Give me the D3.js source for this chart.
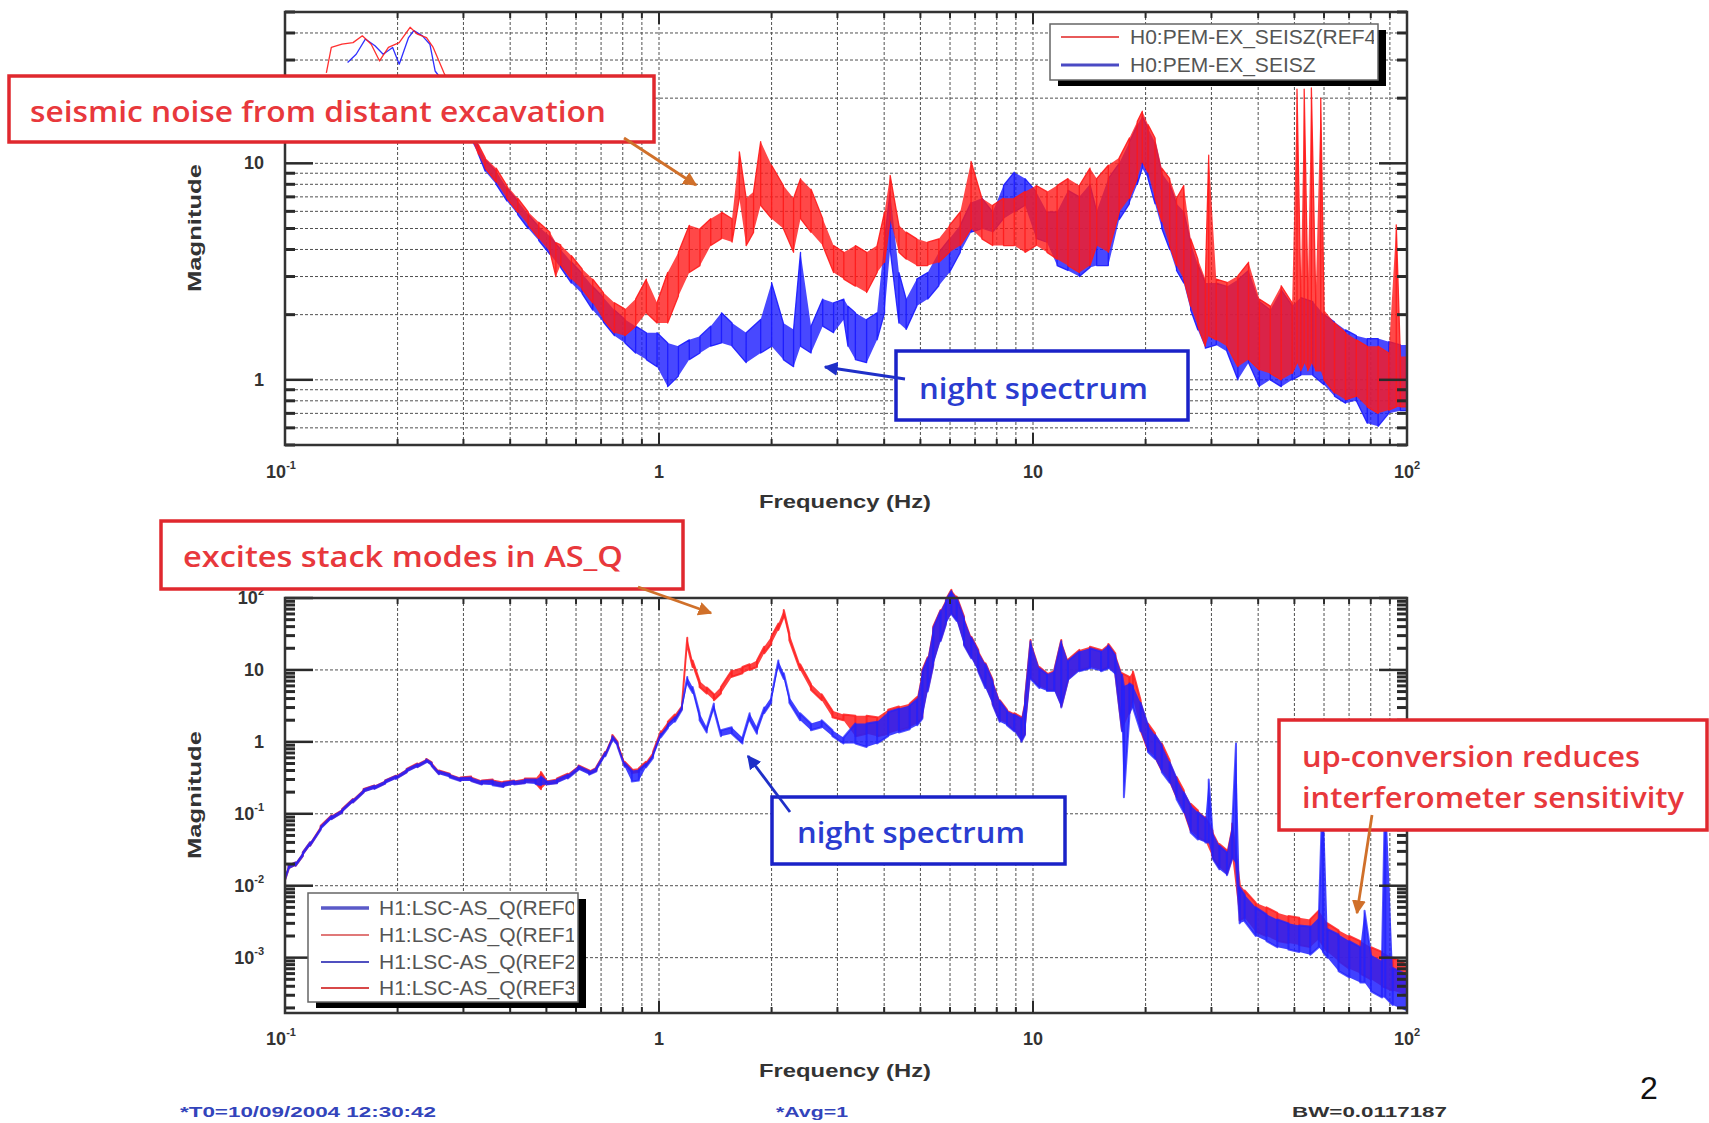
<!DOCTYPE html>
<html><head><meta charset="utf-8">
<script src="https://cdn.jsdelivr.net/npm/d3@7/dist/d3.min.js"></script>
<style>body{margin:0;background:#fff}svg{display:block}</style>
</head><body>
<svg id="chart" width="1709" height="1123"></svg>
<script>
// Seismometer spectra, [frequency Hz, lower envelope, upper envelope]
const seisDay = [[0.129,26.2,26.2],[0.133,34.3,34.3],[0.142,35.5,35.5],[0.152,36.1,36.1],[0.161,38.8,38.8],[0.170,35.5,35.5],[0.179,29.7,29.7],[0.189,34.3,34.3],[0.202,36.1,36.1],[0.216,42.5,42.5],[0.226,39.5,39.5],[0.239,38.1,38.1],[0.249,34.3,34.3],[0.258,29.7,29.7],[0.266,26.2,26.2],[0.29,19,21],[0.31,14.5,16],[0.329,11.0,12.2],[0.343,9.5,10.6],[0.367,8.2,9.5],[0.392,6.9,7.9],[0.419,5.96,6.9],[0.447,5.2,5.96],[0.477,4.5,5.35],[0.511,3.9,4.8],[0.53,3.0,4.3],[0.546,3.4,4.2],[0.583,2.92,3.75],[0.623,2.62,3.25],[0.665,2.27,2.92],[0.710,1.90,2.53],[0.760,1.65,2.27],[0.811,1.6,2.12],[0.866,1.77,2.36],[0.925,2.04,2.92],[0.988,1.83,2.27],[1.055,1.83,3.13],[1.127,2.44,3.88],[1.205,3.13,5.17],[1.287,3.37,4.99],[1.375,4.17,5.55],[1.469,4.49,5.95],[1.568,4.33,5.55],[1.64,6.9,11.3],[1.71,4.17,6.9],[1.79,4.8,7.4],[1.87,6.4,12.6],[2.00,5.55,9.8],[2.15,5.0,7.9],[2.29,3.88,6.9],[2.39,5.55,8.5],[2.55,4.8,7.6],[2.74,4.17,5.55],[2.93,3.13,4.17],[3.12,2.92,3.88],[3.35,2.71,4.17],[3.59,2.53,3.88],[3.83,3.13,4.17],[4.01,3.49,5.96],[4.15,5.5,8.8],[4.38,3.88,5.17],[4.58,3.61,4.81],[4.89,3.37,4.48],[5.23,3.37,4.32],[5.60,3.49,4.48],[5.98,3.88,5.17],[6.39,4.17,5.96],[6.83,4.99,10.2],[7.30,4.48,6.9],[7.80,4.17,6.4],[8.34,4.17,6.9],[8.91,4.17,6.9],[9.52,3.88,7.4],[10.2,4.17,7.9],[10.9,3.88,7.4],[11.6,3.61,7.9],[12.4,3.37,8.5],[13.3,3.13,7.9],[14.2,3.37,9.5],[14.8,4.17,8.5],[15.9,3.88,9.8],[17.0,5.96,10.6],[18.1,6.9,13.1],[19.0,8.5,15.6],[19.6,10.2,17.4],[20.3,9.1,15.1],[21.2,6.9,13.1],[22.1,5.4,9.5],[23.2,4.17,8.5],[24.2,3.37,6.9],[25.3,2.92,7.9],[26.4,2.19,4.48],[27.6,1.77,3.61],[28.9,1.43,2.92],[29.5,1.6,10.9],[30.9,1.53,2.92],[33.0,1.43,2.82],[35.3,1.15,3.02],[37.7,1.24,3.49],[40.3,1.11,2.36],[43.1,1.07,2.19],[46.1,1.0,2.72],[49.3,1.07,2.27],[50.8,1.2,22],[52.0,1.1,2.5],[53.1,1.2,22],[54.3,1.1,2.6],[55.5,1.2,22.3],[57.0,1.1,2.4],[58.8,1.1,20],[60.0,1.0,2.1],[64.0,0.87,1.83],[68.5,0.81,1.65],[73.2,0.84,1.53],[78.3,0.75,1.43],[83.7,0.70,1.43],[89.4,0.725,1.33],[93.6,0.75,5.2],[96,0.75,1.28],[100,0.75,1.28]];

const seisNight = [[0.147,29.2,29.2],[0.155,31.9,31.9],[0.164,37.5,37.5],[0.174,34.9,34.9],[0.183,31.9,31.9],[0.194,34.3,34.3],[0.202,28.7,28.7],[0.214,38.1,38.1],[0.221,41,41],[0.233,38.8,38.8],[0.244,35.5,35.5],[0.252,26.7,26.7],[0.28,20,21],[0.30,15,16.5],[0.329,11,12],[0.343,9.2,10.4],[0.367,8,9.2],[0.392,6.7,7.7],[0.419,5.8,6.7],[0.447,5.0,5.8],[0.477,4.4,5.1],[0.511,3.8,4.6],[0.546,3.3,4.0],[0.583,2.8,3.5],[0.623,2.5,3.1],[0.665,2.1,2.7],[0.710,1.85,2.4],[0.760,1.6,2.1],[0.811,1.48,1.9],[0.866,1.33,1.77],[0.925,1.24,1.65],[0.988,1.15,1.65],[1.055,0.93,1.48],[1.127,1.04,1.43],[1.205,1.24,1.53],[1.287,1.33,1.59],[1.375,1.43,1.77],[1.469,1.48,2.04],[1.568,1.43,1.83],[1.71,1.20,1.65],[1.87,1.33,1.90],[2.00,1.43,2.81],[2.15,1.24,1.83],[2.29,1.15,1.71],[2.39,1.43,3.88],[2.55,1.33,1.77],[2.74,1.77,2.36],[2.93,1.65,2.27],[3.12,1.90,2.36],[3.20,1.43,2.19],[3.35,1.24,2.04],[3.59,1.20,1.90],[3.83,1.53,2.04],[4.01,2.04,4.48],[4.15,4.0,7.4],[4.38,1.83,3.13],[4.58,1.71,2.36],[4.89,2.19,2.92],[5.23,2.36,3.13],[5.60,2.72,3.88],[5.98,3.13,4.48],[6.39,3.88,5.17],[6.83,4.81,6.6],[7.30,4.99,6.9],[7.80,4.81,5.96],[8.34,5.55,7.9],[8.91,5.96,9.1],[9.52,6.4,8.5],[10.2,4.5,7.4],[10.9,4.32,5.96],[11.6,3.37,5.96],[12.4,3.2,7.5],[13.3,3.0,7.0],[14.2,3.3,8],[14.8,3.37,6.0],[15.9,3.37,8.5],[17.0,5.5,10],[18.1,6.5,12.5],[19.0,8,15],[19.6,9.5,16.5],[20.3,8.5,14.5],[21.2,6.5,12.5],[22.1,5,9],[23.2,4,8],[24.2,3.2,6.5],[25.3,2.8,6],[26.4,2.1,4.3],[27.6,1.7,3.4],[28.9,1.4,2.8],[30.9,1.45,2.8],[33.0,1.35,2.7],[35.3,1.0,2.9],[37.7,1.2,3.2],[40.3,0.93,2.3],[43.1,1.0,2.1],[46.1,0.93,2.6],[49.3,1.0,2.2],[52,1.05,2.4],[56,1.05,2.3],[60,0.95,2.0],[64,0.84,1.85],[68.5,0.78,1.7],[73.2,0.8,1.6],[78.3,0.63,1.55],[83.7,0.61,1.55],[89.4,0.70,1.5],[96,0.72,1.45],[100,0.72,1.45]];

// AS_Q spectra, [frequency Hz, lower envelope, upper envelope]
const asqDay = [[0.100,0.012,0.014],[0.1022,0.017,0.019],[0.1068,0.019,0.021],[0.1116,0.026,0.029],[0.1167,0.036,0.040],[0.1246,0.062,0.068],[0.1331,0.085,0.095],[0.1422,0.105,0.117],[0.1519,0.145,0.160],[0.1623,0.200,0.222],[0.1734,0.225,0.248],[0.1853,0.265,0.29],[0.1980,0.31,0.34],[0.2115,0.38,0.42],[0.2259,0.45,0.50],[0.2386,0.53,0.58],[0.2467,0.47,0.52],[0.2580,0.36,0.40],[0.2757,0.33,0.36],[0.2945,0.29,0.32],[0.3146,0.29,0.33],[0.3361,0.26,0.29],[0.3591,0.26,0.30],[0.3837,0.24,0.28],[0.4099,0.26,0.29],[0.4379,0.27,0.31],[0.4678,0.27,0.31],[0.4834,0.22,0.38],[0.4998,0.26,0.29],[0.5339,0.27,0.31],[0.5704,0.32,0.36],[0.6094,0.42,0.47],[0.6510,0.36,0.40],[0.6804,0.40,0.45],[0.7183,0.65,0.73],[0.7502,1.10,1.25],[0.7750,0.90,1.0],[0.8095,0.47,0.53],[0.8457,0.37,0.42],[0.8834,0.38,0.43],[0.9229,0.47,0.53],[0.9642,0.65,0.73],[1.011,1.25,1.40],[1.056,1.70,1.90],[1.103,2.1,2.4],[1.152,2.9,3.3],[1.190,22,28],[1.230,11,13.5],[1.284,5.8,7],[1.342,4.7,5.7],[1.402,3.8,4.6],[1.464,4.7,5.8],[1.565,8.0,9.8],[1.672,9,11],[1.747,10,12],[1.828,11,13.5],[1.911,17,21],[1.996,23,29],[2.085,36,44],[2.156,55,68],[2.231,26,32],[2.384,10,12],[2.548,5.3,6.4],[2.722,3.8,4.6],[2.909,2.2,2.7],[3.113,2.0,2.4],[3.35,1.2,2.3],[3.59,1.3,2.3],[3.83,1.2,2.2],[4.10,1.3,2.8],[4.38,1.45,3.1],[4.68,1.6,3.4],[4.90,1.8,4.2],[5.06,2.2,10],[5.23,5.3,15],[5.41,12,40],[5.66,26,68],[5.85,45,95],[6.05,62,130],[6.25,50,105],[6.54,23,55],[6.84,15,29],[7.14,10,19],[7.46,5.9,12.4],[7.80,3.4,7.3],[8.15,2.0,3.8],[8.52,1.8,2.8],[8.91,1.45,2.5],[9.31,1.05,2.2],[9.52,1.3,4.0],[9.85,8,26],[10.4,5.9,11],[10.9,5.3,9],[11.4,5.3,10],[11.9,3.1,26],[12.4,7.2,13.8],[13.3,10,19],[14.2,11,21],[15.2,10,19],[15.9,11,23],[16.6,9,17],[17.3,1.45,9],[18.1,2.5,8],[18.5,4,9.5],[19.4,1.45,3.8],[20.3,0.76,1.8],[21.2,0.62,1.31],[22.1,0.40,0.95],[23.2,0.29,0.55],[24.2,0.171,0.325],[25.3,0.111,0.211],[26.4,0.058,0.138],[27.6,0.047,0.111],[28.9,0.042,0.090],[30.2,0.025,0.058],[31.5,0.018,0.038],[33.0,0.0146,0.031],[34.1,0.025,0.073],[35.7,0.0033,0.0106],[36.8,0.0036,0.0086],[39.4,0.0023,0.0058],[42.1,0.0020,0.0050],[45.0,0.0017,0.0042],[48.2,0.0016,0.0038],[51.5,0.0015,0.0036],[55.1,0.0014,0.0034],[58.1,0.0018,0.0045],[61.3,0.0012,0.0030],[65.6,0.0009,0.0024],[70.1,0.0007,0.0020],[75.0,0.0006,0.0017],[80.1,0.0005,0.0014],[85.7,0.0004,0.0012],[91.6,0.00035,0.0010],[100,0.0003,0.0008]];

const asqNight = [[0.100,0.012,0.014],[0.1022,0.017,0.019],[0.1068,0.019,0.021],[0.1116,0.026,0.029],[0.1167,0.036,0.040],[0.1246,0.060,0.066],[0.1331,0.084,0.093],[0.1422,0.104,0.115],[0.1519,0.143,0.158],[0.1623,0.198,0.218],[0.1734,0.222,0.245],[0.1853,0.262,0.288],[0.1980,0.305,0.335],[0.2115,0.375,0.415],[0.2259,0.445,0.49],[0.2386,0.52,0.57],[0.2467,0.46,0.51],[0.2580,0.355,0.39],[0.2757,0.32,0.355],[0.2945,0.285,0.315],[0.3146,0.285,0.32],[0.3361,0.255,0.285],[0.3591,0.25,0.29],[0.3837,0.235,0.27],[0.4099,0.255,0.285],[0.4379,0.265,0.30],[0.4678,0.26,0.30],[0.4834,0.25,0.33],[0.4998,0.255,0.285],[0.5339,0.265,0.30],[0.5704,0.31,0.35],[0.6094,0.41,0.46],[0.6510,0.35,0.39],[0.6804,0.39,0.44],[0.7183,0.63,0.71],[0.7502,1.05,1.2],[0.7750,0.86,0.96],[0.8095,0.45,0.51],[0.8457,0.28,0.40],[0.8834,0.29,0.41],[0.9229,0.44,0.50],[0.9642,0.60,0.68],[1.011,1.15,1.30],[1.056,1.55,1.75],[1.103,1.9,2.2],[1.152,2.8,3.2],[1.190,6.5,8.0],[1.230,4.8,5.8],[1.284,2.0,2.5],[1.342,1.35,1.6],[1.402,2.8,3.4],[1.464,1.2,1.45],[1.565,1.3,1.6],[1.672,0.95,1.15],[1.747,2.0,2.5],[1.828,1.3,1.6],[1.911,2.5,3.0],[1.996,3.5,4.2],[2.085,11,13.5],[2.156,7.5,9],[2.231,3.5,4.2],[2.384,2.0,2.5],[2.548,1.45,1.8],[2.722,1.6,2.0],[2.909,1.2,1.45],[3.113,0.95,1.15],[3.35,0.95,1.8],[3.59,0.85,1.8],[3.83,0.95,1.9],[4.10,1.2,2.6],[4.38,1.35,2.9],[4.68,1.5,3.2],[4.90,1.7,3.9],[5.06,2.1,9.5],[5.23,5.0,14.5],[5.41,11.5,38],[5.66,25,66],[5.85,43,92],[6.05,60,125],[6.25,48,100],[6.54,22,52],[6.84,14.5,28],[7.14,9.5,18],[7.46,5.6,12],[7.80,3.3,7.0],[8.15,1.9,3.7],[8.52,1.7,2.7],[8.91,1.4,2.4],[9.31,1.0,2.1],[9.52,1.25,3.8],[9.85,7.5,25],[10.4,5.6,10.5],[10.9,5.1,8.7],[11.4,5.1,9.6],[11.9,3.0,25],[12.4,7.0,13.3],[13.3,9.6,18],[14.2,10.5,20],[15.2,9.6,18],[15.9,10.5,22],[16.6,8.6,16],[17.3,1.4,8.6],[17.5,0.17,6],[18.1,2.3,6.5],[18.5,3.0,6.0],[19.4,1.4,3.5],[20.3,0.72,1.7],[21.2,0.58,1.25],[22.1,0.38,0.9],[23.2,0.27,0.52],[24.2,0.16,0.31],[25.3,0.105,0.2],[26.4,0.055,0.13],[27.6,0.044,0.105],[28.9,0.040,0.085],[29.5,0.040,0.30],[30.2,0.024,0.055],[31.5,0.017,0.036],[33.0,0.014,0.029],[34.1,0.024,0.07],[34.9,0.02,0.95],[35.7,0.0030,0.0095],[36.8,0.0032,0.0075],[39.4,0.0020,0.0050],[42.1,0.0017,0.0040],[45.0,0.0014,0.0034],[48.2,0.0013,0.0030],[51.5,0.0012,0.0028],[55.1,0.0011,0.0027],[58.1,0.0014,0.0036],[59.6,0.0012,0.3],[61.3,0.0010,0.0025],[65.6,0.00065,0.0021],[70.1,0.00053,0.0017],[75.0,0.00045,0.0014],[77.0,0.00045,0.0045],[80.1,0.00034,0.0011],[85.7,0.00028,0.0009],[87.5,0.00028,0.3],[91.6,0.00022,0.00072],[100,0.00018,0.00058]];

// Axis ticks and labels
const freqTicks = [0.1, 1, 10, 100];
const freqTickLabels = [["10","-1"], ["1",""], ["10",""], ["10","2"]];
const seisMagTicks = [1, 10];
const seisMagTickLabels = [["1",""], ["10",""]];
const asqMagTicks = [100, 10, 1, 0.1, 0.01, 0.001];
const asqMagTickLabels = [["10","2"], ["10",""], ["1",""], ["10","-1"], ["10","-2"], ["10","-3"]];

const seisLegend = [["H0:PEM-EX_SEISZ(REF4)", "#e85a5a", 2], ["H0:PEM-EX_SEISZ", "#4a4ac4", 3]];
const asqLegend = [["H1:LSC-AS_Q(REF0)", "#5a5ac8", 3.5], ["H1:LSC-AS_Q(REF1)", "#e07878", 2], ["H1:LSC-AS_Q(REF2)", "#5050c0", 2], ["H1:LSC-AS_Q(REF3)", "#d84848", 2]];

const svg = d3.select("#chart");
const AXIS_FONT = "'Liberation Sans', Arial, sans-serif";
const NOTE_FONT = "'Open Sans', 'DejaVu Sans', sans-serif";

const xTop = d3.scaleLog().domain([0.1, 100]).range([285, 1407]);
const yTop = d3.scaleLog().domain([0.5, 50]).range([445, 12]);
const xBot = d3.scaleLog().domain([0.1, 100]).range([285, 1407]);
const yBot = d3.scaleLog().domain([1.7e-4, 100]).range([1013, 598]);

const defs = svg.append("defs");
defs.append("clipPath").attr("id", "clipTop").append("rect")
  .attr("x", 285).attr("y", 12).attr("width", 1122).attr("height", 433);

function decadeSteps(lo, hi) {
  const out = [];
  for (let e = Math.floor(Math.log10(lo)); e <= Math.ceil(Math.log10(hi)); e++) {
    for (let k = 1; k <= 9; k++) {
      const v = +(k * Math.pow(10, e)).toPrecision(6);
      if (v >= lo * 0.999 && v <= hi * 1.001) out.push(v);
    }
  }
  return out;
}

function drawFrame(g, x, y, hGrid, yMinor, yMajor) {
  const [x0, x1] = x.range();
  const [y0, y1] = y.range();
  const xs = decadeSteps(0.1, 100);
  const grid = g.append("g").attr("stroke", "#333").attr("stroke-width", 1)
    .attr("stroke-dasharray", "3,2").attr("opacity", 0.85);
  xs.filter(v => v > 0.1 && v < 100).forEach(v => {
    grid.append("line").attr("x1", x(v)).attr("x2", x(v)).attr("y1", y1).attr("y2", y0);
  });
  hGrid.forEach(v => {
    grid.append("line").attr("x1", x0).attr("x2", x1).attr("y1", y(v)).attr("y2", y(v));
  });
  return () => {
    const t = g.append("g").attr("stroke", "#2a2a2a");
    xs.forEach(v => {
      const major = [0.1, 1, 10, 100].includes(v);
      const L = major ? 12 : 6;
      t.append("line").attr("x1", x(v)).attr("x2", x(v)).attr("y1", y0).attr("y2", y0 - L).attr("stroke-width", 2);
      t.append("line").attr("x1", x(v)).attr("x2", x(v)).attr("y1", y1).attr("y2", y1 + L).attr("stroke-width", 2);
    });
    yMinor.forEach(v => {
      const major = yMajor.includes(v);
      const L = major ? 28 : 10;
      t.append("line").attr("x1", x0).attr("x2", x0 + L).attr("y1", y(v)).attr("y2", y(v)).attr("stroke-width", major ? 2.5 : 3);
      t.append("line").attr("x1", x1).attr("x2", x1 - L).attr("y1", y(v)).attr("y2", y(v)).attr("stroke-width", major ? 2.5 : 3);
    });
    g.append("rect").attr("x", x0).attr("y", y1).attr("width", x1 - x0).attr("height", y0 - y1)
      .attr("fill", "none").attr("stroke", "#333").attr("stroke-width", 2.5);
  };
}

// Envelope band plus a comb of vertical strokes between the envelopes at each sample
function drawTrace(g, data, x, y, color, fillOpacity, lineOpacity, lineWidth) {
  g.append("path").datum(data)
    .attr("d", d3.area().x(d => x(d[0])).y0(d => y(d[1])).y1(d => y(d[2])))
    .attr("fill", color).attr("fill-opacity", fillOpacity);
  const pts = [];
  data.forEach((d, i) => {
    if (i % 2) { pts.push([d[0], d[1]], [d[0], d[2]]); }
    else { pts.push([d[0], d[2]], [d[0], d[1]]); }
  });
  g.append("path").datum(pts)
    .attr("d", d3.line().x(d => x(d[0])).y(d => y(d[1])))
    .attr("fill", "none").attr("stroke", color).attr("stroke-width", lineWidth)
    .attr("stroke-opacity", lineOpacity).attr("stroke-linejoin", "round");
}

function powLabel(g, px, py, parts, anchor) {
  const t = g.append("text").attr("x", px).attr("y", py).attr("text-anchor", anchor)
    .attr("font-family", AXIS_FONT).attr("font-weight", "bold").attr("font-size", 18).attr("fill", "#333");
  t.append("tspan").text(parts[0]);
  if (parts[1]) t.append("tspan").attr("dy", -9).attr("font-size", 11).text(parts[1]);
  return t;
}

function axisLabels(g, x, y, yTicks, yLabels, xBaseline) {
  freqTicks.forEach((v, i) => {
    powLabel(g, x(v) + (i === 0 ? -4 : 0), xBaseline, freqTickLabels[i], "middle");
  });
  yTicks.forEach((v, i) => {
    powLabel(g, 264, y(v) + 6, yLabels[i], "end");
  });
}

function titles(g, cyMag, yFreq) {
  g.append("text").attr("transform", `translate(201,${cyMag}) rotate(-90)`)
    .attr("text-anchor", "middle").attr("font-family", AXIS_FONT).attr("font-weight", "bold")
    .attr("font-size", 19).attr("fill", "#333").attr("textLength", 128).attr("lengthAdjust", "spacingAndGlyphs")
    .text("Magnitude");
  g.append("text").attr("x", 759).attr("y", yFreq)
    .attr("font-family", AXIS_FONT).attr("font-weight", "bold")
    .attr("font-size", 18).attr("fill", "#333").attr("textLength", 172).attr("lengthAdjust", "spacingAndGlyphs")
    .text("Frequency (Hz)");
}

function legend(g, entries, bx, by, bw, bh, lineX0, lineX1, textX, rowY, fontSize, clipId) {
  g.append("rect").attr("x", bx + 8).attr("y", by + 6).attr("width", bw).attr("height", bh).attr("fill", "#000");
  g.append("rect").attr("x", bx).attr("y", by).attr("width", bw).attr("height", bh)
    .attr("fill", "#fff").attr("stroke", "#666").attr("stroke-width", 1.5);
  defs.append("clipPath").attr("id", clipId).append("rect")
    .attr("x", bx).attr("y", by).attr("width", bw - 4).attr("height", bh);
  const inner = g.append("g").attr("clip-path", `url(#${clipId})`);
  entries.forEach((e, i) => {
    inner.append("line").attr("x1", lineX0).attr("x2", lineX1).attr("y1", rowY[i]).attr("y2", rowY[i])
      .attr("stroke", e[1]).attr("stroke-width", e[2]);
    inner.append("text").attr("x", textX).attr("y", rowY[i] + 7)
      .attr("font-family", AXIS_FONT).attr("font-size", fontSize).attr("fill", "#555").text(e[0]);
  });
}

// ---------- upper plot: seismometer ----------
const gTop = svg.append("g");
const finishTop = drawFrame(gTop, xTop, yTop,
  decadeSteps(0.5, 50).filter(v => v > 0.5 && v < 50), decadeSteps(0.5, 50), [1, 10]);
const tracesTop = gTop.append("g").attr("clip-path", "url(#clipTop)");
drawTrace(tracesTop, seisNight, xTop, yTop, "#1a1aff", 0.8, 0.9, 1.3);
drawTrace(tracesTop, seisDay, xTop, yTop, "#ff1a1a", 0.8, 0.9, 1.3);
finishTop();
axisLabels(gTop, xTop, yTop, seisMagTicks, seisMagTickLabels, 478);
titles(gTop, 228, 508);
legend(gTop, seisLegend, 1050, 24, 328, 56, 1061, 1119, 1130, [37, 65], 21, "clipLegTop");

// ---------- lower plot: AS_Q ----------
const gBot = svg.append("g");
const finishBot = drawFrame(gBot, xBot, yBot, [0.001, 0.01, 0.1, 1, 10], decadeSteps(2e-4, 100), asqMagTicks);
drawTrace(gBot, asqDay, xBot, yBot, "#ff2020", 0.85, 0.85, 2);
drawTrace(gBot, asqNight, xBot, yBot, "#2020ff", 0.85, 0.75, 2);
finishBot();
axisLabels(gBot, xBot, yBot, asqMagTicks, asqMagTickLabels, 1045);
titles(gBot, 795, 1077);
legend(gBot, asqLegend, 308, 893, 270, 109, 321, 369, 379, [908, 935, 962, 988], 21, "clipLegBot");

// ---------- callouts ----------
const notes = svg.append("g");
function arrowMarker(id, color) {
  defs.append("marker").attr("id", id).attr("viewBox", "0 0 10 10").attr("refX", 9).attr("refY", 5)
    .attr("markerWidth", 5).attr("markerHeight", 5).attr("orient", "auto")
    .append("path").attr("d", "M0,0L10,5L0,10z").attr("fill", color);
}
arrowMarker("arrOrange", "#d0702a");
arrowMarker("arrBlue", "#1f2fc8");

function callout(x, y, w, h, color, textColor, lines) {
  notes.append("rect").attr("x", x).attr("y", y).attr("width", w).attr("height", h)
    .attr("fill", "#fff").attr("stroke", color).attr("stroke-width", 3.5);
  lines.forEach(l => {
    notes.append("text").attr("x", l[1]).attr("y", l[2]).attr("font-family", NOTE_FONT)
      .attr("font-weight", 600).attr("font-size", l[4]).attr("fill", textColor)
      .attr("textLength", l[3]).attr("lengthAdjust", "spacingAndGlyphs").text(l[0]);
  });
}
function arrow(x1, y1, x2, y2, color, marker) {
  notes.append("line").attr("x1", x1).attr("y1", y1).attr("x2", x2).attr("y2", y2)
    .attr("stroke", color).attr("stroke-width", 2.8).attr("marker-end", `url(#${marker})`);
}

callout(9, 76, 645, 66, "#e0282e", "#e8383c", [["seismic noise from distant excavation", 30, 122, 576, 28]]);
callout(896, 351, 292, 69, "#1a22c8", "#2a3cd0", [["night spectrum", 919, 399, 229, 29]]);
callout(161, 521, 522, 68, "#e0282e", "#e8383c", [["excites stack modes in AS_Q", 183, 567, 440, 28]]);
callout(772, 797, 293, 67, "#1a22c8", "#2a3cd0", [["night spectrum", 797, 843, 228, 29]]);
callout(1279, 720, 428, 110, "#e0282e", "#e8383c",
  [["up-conversion reduces", 1302, 767, 338, 28], ["interferometer sensitivity", 1302, 808, 382, 28]]);

arrow(624, 138, 696, 185, "#d0702a", "arrOrange");
arrow(905, 379, 825, 367, "#1f2fc8", "arrBlue");
arrow(638, 587, 711, 613, "#d0702a", "arrOrange");
arrow(790, 812, 748, 756, "#1f2fc8", "arrBlue");
arrow(1372, 815, 1357, 913, "#d0702a", "arrOrange");

// ---------- footer ----------
const foot = svg.append("g").attr("font-family", AXIS_FONT).attr("font-weight", "bold").attr("font-size", 15);
foot.append("text").attr("x", 180).attr("y", 1117).attr("fill", "#3344bb")
  .attr("textLength", 256).attr("lengthAdjust", "spacingAndGlyphs").text("*T0=10/09/2004 12:30:42");
foot.append("text").attr("x", 776).attr("y", 1117).attr("fill", "#3344bb")
  .attr("textLength", 72).attr("lengthAdjust", "spacingAndGlyphs").text("*Avg=1");
foot.append("text").attr("x", 1292).attr("y", 1117).attr("fill", "#333")
  .attr("textLength", 155).attr("lengthAdjust", "spacingAndGlyphs").text("BW=0.0117187");
svg.append("text").attr("x", 1640).attr("y", 1099).attr("font-family", AXIS_FONT)
  .attr("font-size", 32).attr("fill", "#111").text("2");
</script>
</body></html>
